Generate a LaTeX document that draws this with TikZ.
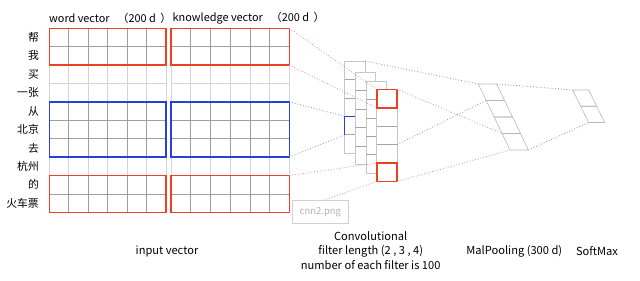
\documentclass[tikz,border=0pt]{standalone}
\usepackage{fontspec}
\setmainfont{Noto Sans CJK SC}
\definecolor{myred}{RGB}{234,64,36}
\definecolor{myblue}{RGB}{40,64,214}
\definecolor{redl}{RGB}{240,140,140}
\definecolor{bluel}{RGB}{140,140,225}
\definecolor{grayl}{RGB}{140,140,140}
\newcommand\blkgrid[5]{%
  \foreach \j in {0,...,6} \draw[#5] ({#1+#2*\j},#3) -- ({#1+#2*\j},{#3+18.4*#4});
  \foreach \i in {0,...,#4} \draw[#5] (#1,{#3+18.4*\i}) -- ({#1+6*#2},{#3+18.4*\i});
}
\begin{document}
\begin{tikzpicture}[x=1pt,y=-1pt,
  lgrid/.style={draw=black!17, line width=0.6pt},
  dgrid/.style={draw=black!38, line width=0.6pt},
  redbox/.style={draw=myred, line width=1.6pt, inner sep=0pt, outer sep=0pt, anchor=north west},
  bluebox/.style={draw=myblue, line width=1.6pt, inner sep=0pt, outer sep=0pt, anchor=north west},
  convbox/.style={draw=black!22, fill=white, line width=0.6pt},
  convdiv/.style={draw=black!35, line width=0.6pt},
  rdot/.style={draw=redl, line width=0.8pt, dash pattern=on 0.8pt off 2pt},
  bdot/.style={draw=bluel, line width=0.8pt, dash pattern=on 0.8pt off 2pt},
  gdot/.style={draw=grayl, line width=0.8pt, dash pattern=on 0.8pt off 2pt},
  rowlbl/.style={anchor=east, inner sep=0pt, font=\fontsize{10.8}{13}\selectfont},
  txt/.style={inner sep=0pt, font=\fontsize{10.9}{14.8}\selectfont, align=center},
  btxt/.style={inner sep=0pt, font=\fontsize{11.1}{14.8}\selectfont, align=center},
  poolc/.style={draw=black!28, line width=0.6pt}
]
\useasboundingbox (0,0) rectangle (640,281);
% input grids
\blkgrid{49.3}{19.45}{28.3}{10}{lgrid}
\blkgrid{171}{19.72}{28.3}{10}{lgrid}
\blkgrid{49.3}{19.45}{28.3}{2}{dgrid}
\blkgrid{171}{19.72}{28.3}{2}{dgrid}
\blkgrid{49.3}{19.45}{101.9}{3}{dgrid}
\blkgrid{171}{19.72}{101.9}{3}{dgrid}
\blkgrid{49.3}{19.45}{175.5}{2}{dgrid}
\blkgrid{171}{19.72}{175.5}{2}{dgrid}
\node[redbox, minimum width=116.7pt, minimum height=36.8pt] (wr1) at (49.3,28.3) {};
\node[redbox, minimum width=118.3pt, minimum height=36.8pt] (kr1) at (171,28.3) {};
\node[bluebox, minimum width=116.7pt, minimum height=55.2pt] (wb) at (49.3,101.9) {};
\node[bluebox, minimum width=118.3pt, minimum height=55.2pt] (kb) at (171,101.9) {};
\node[redbox, minimum width=116.7pt, minimum height=36.8pt] (wr2) at (49.3,175.5) {};
\node[redbox, minimum width=118.3pt, minimum height=36.8pt] (kr2) at (171,175.5) {};
% headers
\node[txt, anchor=west] (hw) at (49,18) {word vector\hspace{8pt}（200 d\hspace{4.5pt}）};
\node[txt, anchor=west] (hk) at (172.5,18) {knowledge vector\hspace{8pt}（200 d\hspace{4.5pt}）};
% row labels
\node[rowlbl] (l0) at (39,37.5) {帮};
\node[rowlbl] (l1) at (39,55.9) {我};
\node[rowlbl] (l2) at (39,74.3) {买};
\node[rowlbl] (l3) at (39,92.7) {一张};
\node[rowlbl] (l4) at (39,111.1) {从};
\node[rowlbl] (l5) at (39,129.5) {北京};
\node[rowlbl] (l6) at (39,147.9) {去};
\node[rowlbl] (l7) at (39,166.3) {杭州};
\node[rowlbl] (l8) at (39,184.7) {的};
\node[rowlbl] (l9) at (39,203.1) {火车票};
% convolution layers
\filldraw[convbox] (344.7,61) rectangle ++(20.3,92.2);
\foreach \r in {1,...,4} \draw[convdiv] (344.7,{61+18.44*\r}) -- ++(20.3,0);
\coordinate (c1tr) at (365,61);
\coordinate (bt) at (344.7,116.3);
\coordinate (bb) at (344.7,134.8);
\draw[myblue, line width=1.2pt] (355,116.3) -- (bt) -- (bb);
\filldraw[convbox] (355,72.3) rectangle ++(20.3,92.2);
\foreach \r in {1,...,4} \draw[convdiv] (355,{72.3+18.44*\r}) -- ++(20.3,0);
\filldraw[convbox] (366.2,81) rectangle ++(20.3,92.2);
\foreach \r in {1,...,4} \draw[convdiv] (366.2,{81+18.44*\r}) -- ++(20.3,0);
\filldraw[convbox] (376.7,89.3) rectangle ++(20.3,92.2);
\foreach \r in {1,...,4} \draw[convdiv] (376.7,{89.3+18.44*\r}) -- ++(20.3,0);
\coordinate (c4r3) at (397,{89.3+18.44*3});
\node[redbox, minimum width=20.3pt, minimum height=18.44pt] (rs1) at (376.7,89.3) {};
\node[redbox, minimum width=20.3pt, minimum height=18.44pt] (rs2) at (376.7,163.06) {};
% pooling
\foreach \i in {0,1,2,3} {
  \draw[poolc] ({478.3+7.92*\i},{84+16.5*\i}) -- ++(18.4,0) -- ++(7.92,16.5) -- ++(-18.4,0) -- cycle;
}
\coordinate (p0) at (478.3,84);
\coordinate (p0r) at (496.7,84);
\coordinate (p1) at (486.2,100.5);
\coordinate (p3) at (502.1,133.5);
\coordinate (p4) at (510,150);
\coordinate (p4r) at (528.4,150);
% softmax
\draw[poolc] (572.7,90) -- ++(16,0) -- ++(7.95,16.25) -- ++(-16,0) -- cycle;
\draw[poolc] (580.65,106.25) -- ++(16,0) -- ++(7.95,16.25) -- ++(-16,0) -- cycle;
\coordinate (s0) at (572.7,90);
\coordinate (s4) at (588.6,122.5);
% connectors
\draw[rdot] (kr1.north east) -- (rs1.north west);
\draw[rdot] (kr1.south east) -- (rs1.south west);
\draw[rdot] (kr2.north east) -- (rs2.north west);
\draw[rdot] (kr2.south east) -- (rs2.south west);
\draw[bdot] (kb.north east) -- (bt);
\draw[bdot] (kb.south east) -- (bb);
\draw[bdot] (c1tr) -- (p0);
\draw[bdot] (c4r3) -- (p1);
\draw[rdot] (rs1.north east) -- (p3);
\draw[rdot] (rs2.south east) -- (p4);
\draw[gdot] (p0r) -- (s0);
\draw[gdot] (p4r) -- (s4);
% image placeholder
\node[draw=black!18, fill=white, line width=0.8pt, minimum width=56.6pt, minimum height=23.3pt, anchor=north west, inner sep=0pt] (img) at (291.7,200) {};
\node[inner sep=0pt, text=black!30, font=\fontsize{9.5}{11}\selectfont] (imgt) at (img.center) {cnn2.png};
% bottom labels
\node[btxt] (iv) at (167,251) {input vector};
\node[btxt] (cv) at (370.7,250.5) {Convolutional\\filter length (2 , 3 , 4)\\number of each filter is 100};
\node[btxt] (mp) at (514.3,251) {MalPooling (300 d)};
\node[btxt] (sm) at (597,251) {SoftMax};
\end{tikzpicture}
\end{document}
